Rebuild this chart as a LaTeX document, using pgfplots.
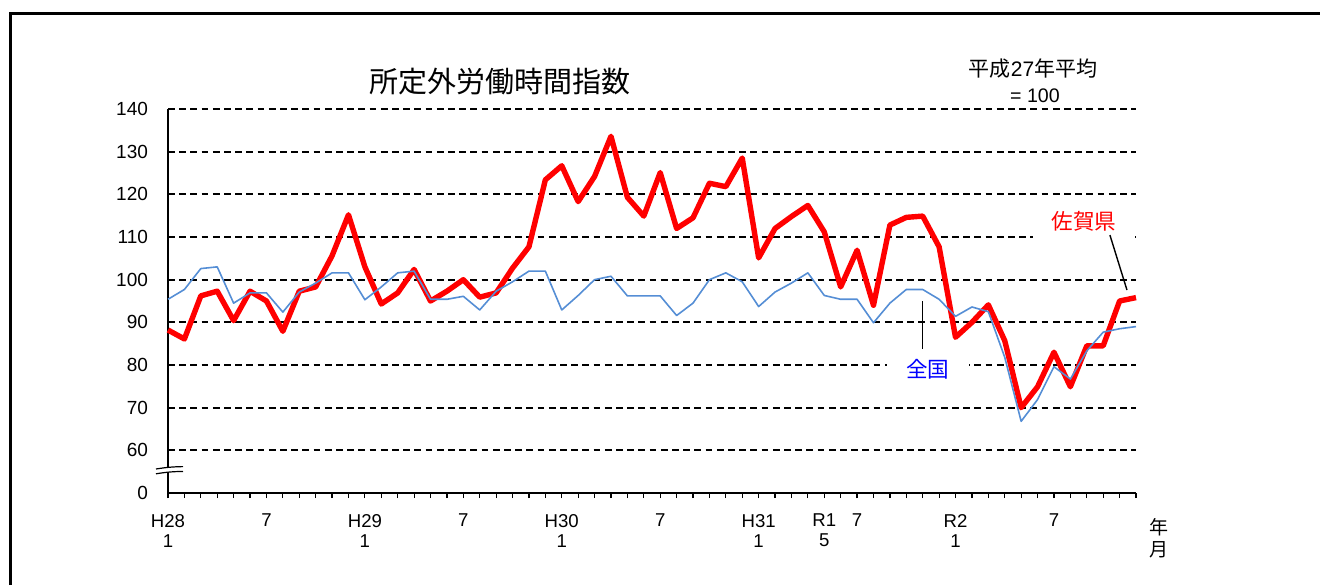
\documentclass[border=0pt]{standalone}
\usepackage{fontspec}
\setmainfont{Liberation Sans}
\newfontfamily\cjk{Noto Sans CJK JP}
\usepackage{pgfplots}
\usepackage{pgfplotstable}
\pgfplotsset{compat=1.18}
\definecolor{zenblue}{RGB}{85,142,213}
\pgfplotstableread{
i saga zen
0 88.2 95.4
1 86.1 97.7
2 96.2 102.6
3 97.3 103.0
4 90.4 94.5
5 97.3 96.9
6 95.0 96.9
7 87.9 92.4
8 97.3 97.1
9 98.3 99.2
10 105.6 101.6
11 115.2 101.6
12 103.0 95.3
13 94.3 98.3
14 96.9 101.6
15 102.4 102.0
16 95.0 95.4
17 97.3 95.4
18 100.0 96.1
19 95.9 92.9
20 96.9 97.3
21 102.7 99.5
22 107.7 102.0
23 123.4 102.0
24 126.7 92.9
25 118.3 96.3
26 124.2 100.0
27 133.6 100.8
28 119.3 96.2
29 114.9 96.2
30 125.1 96.2
31 112.0 91.6
32 114.5 94.5
33 122.6 100.0
34 121.8 101.6
35 128.5 99.5
36 105.1 93.7
37 112.0 97.1
38 114.8 99.2
39 117.4 101.6
40 111.2 96.3
41 98.3 95.4
42 106.9 95.4
43 94.0 89.9
44 112.8 94.5
45 114.6 97.7
46 114.9 97.7
47 107.7 95.4
48 86.5 91.4
49 90.0 93.6
50 94.1 92.5
51 85.7 81.8
52 70.0 66.8
53 74.9 71.9
54 83.0 79.6
55 74.9 76.7
56 84.5 83.3
57 84.5 87.7
58 95.0 88.5
59 95.8 89.0
}\datatable
\begin{document}
\begin{tikzpicture}
\path[use as bounding box] (0,0) rectangle (660pt,292.5pt);
\draw[line width=1.5pt] (5.25pt,0) -- (5.25pt,285.75pt) -- (660pt,285.75pt);
\begin{axis}[
  at={(84pt,46pt)}, anchor=south west, scale only axis,
  width=484pt, height=192pt,
  xmin=0, xmax=59, ymin=50, ymax=140,
  axis x line=bottom, axis y line=left,
  axis line style={line width=0.7pt, -},
  tick align=outside,
  xtick={0,6,12,18,24,30,36,40,42,48,54},
  xticklabels={H28\\1,7,H29\\1,7,H30\\1,7,H31\\1,R1\\5,7,R2\\1,7},
  minor xtick={0,...,59},
  major tick length=2.5pt, minor tick length=2.5pt,
  xtick style={black, line width=0.6pt},
  every minor tick/.append style={black, line width=0.6pt},
  xticklabel style={align=center, font=\fontsize{9.3}{10}\selectfont, yshift=-4.5pt},
  ytick={50,60,...,140}, yticklabels={0,60,70,80,90,100,110,120,130,140},
  ytick style={draw=none},
  yticklabel style={font=\fontsize{9.5}{10}\selectfont, xshift=-4pt},
  ymajorgrids,
  grid style={black, line width=0.95pt, dash pattern=on 3.4pt off 2.2pt},
  clip=false,
]
\addplot[red, line width=2.7pt, line join=round, no markers] table[x=i, y=saga] {\datatable};
\addplot[zenblue, line width=0.8pt, line join=round, no markers] table[x=i, y=zen] {\datatable};
\node[fill=white, text=red, font=\cjk\fontsize{10.8}{12}\selectfont, minimum width=51pt, minimum height=18pt, inner sep=0pt] at (axis cs:55.83,113.7) {佐賀県};
\draw[line width=0.7pt] (axis cs:57.41,110.46) -- (axis cs:58.45,97.57);
\node[fill=white, text=blue, font=\cjk\fontsize{10.8}{12}\selectfont, minimum width=41pt, minimum height=16pt, inner sep=0pt] at (axis cs:46.32,79.06) {全国};
\draw[line width=0.7pt] (axis cs:46,95.0) -- (axis cs:46,83.75);
\end{axis}
% axis break mark
\fill[white] (78pt,56.3pt) rectangle (91.5pt,58.7pt);
\draw[line width=0.6pt] (78pt,58.0pt) .. controls (83pt,58.8pt) and (86pt,59.1pt) .. (91.5pt,59.2pt);
\draw[line width=0.6pt] (78pt,55.6pt) .. controls (83pt,56.4pt) and (86pt,56.7pt) .. (91.5pt,56.8pt);
% titles
\node[font=\cjk\fontsize{14.5}{16}\selectfont] at (250pt,251.5pt) {所定外労働時間指数};
\node[font=\fontsize{10.5}{12}\selectfont] at (516.5pt,258pt) {{\cjk 平成}27{\cjk 年平均}};
\node[font=\fontsize{9.8}{12}\selectfont] at (517.5pt,244.5pt) {= 100};
\node[font=\cjk\fontsize{9.5}{11}\selectfont] at (579.5pt,29pt) {年};
\node[font=\cjk\fontsize{9.5}{11}\selectfont] at (579.5pt,17.5pt) {月};
\end{tikzpicture}
\end{document}
